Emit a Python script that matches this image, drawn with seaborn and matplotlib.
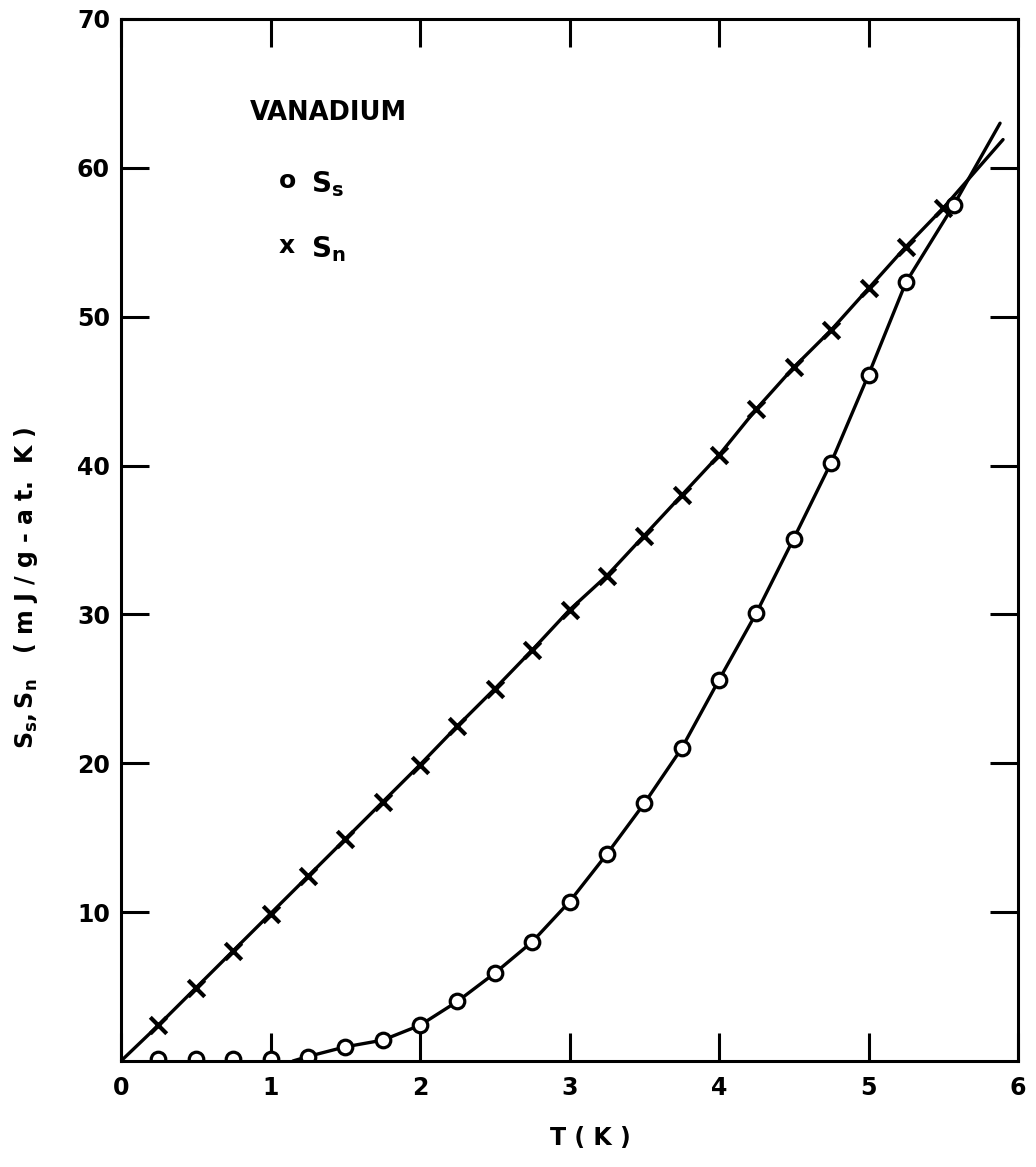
import matplotlib
matplotlib.use("Agg")
import matplotlib.pyplot as plt
import seaborn as sns

# ---- data ----
T_s = [0.25, 0.5, 0.75, 1.0, 1.25, 1.5, 1.75, 2.0, 2.25, 2.5, 2.75, 3.0,
       3.25, 3.5, 3.75, 4.0, 4.25, 4.5, 4.75, 5.0, 5.25, 5.57]
S_s = [0.15, 0.15, 0.15, 0.15, 0.3, 0.95, 1.4, 2.4, 4.0, 5.9, 8.0, 10.7,
       13.9, 17.3, 21.0, 25.6, 30.1, 35.1, 40.2, 46.1, 52.3, 57.5]

T_n = [0.25, 0.5, 0.75, 1.0, 1.25, 1.5, 1.75, 2.0, 2.25, 2.5, 2.75, 3.0,
       3.25, 3.5, 3.75, 4.0, 4.25, 4.5, 4.75, 5.0, 5.25, 5.5]
S_n = [2.4, 4.9, 7.4, 9.9, 12.4, 14.9, 17.4, 19.9, 22.5, 25.0, 27.6, 30.3,
       32.6, 35.3, 38.0, 40.7, 43.8, 46.6, 49.1, 51.9, 54.7, 57.3]

# drawn curves (start / end points of the hand-drawn lines)
Ts_line = [1.15] + T_s[4:] + [5.88]
Ss_line = [0.0] + S_s[4:] + [63.0]
Tn_line = [0.0] + T_n + [5.9]
Sn_line = [0.0] + S_n + [61.9]

x_ticks = [0, 1, 2, 3, 4, 5, 6]
y_ticks = [10, 20, 30, 40, 50, 60, 70]

sns.set_theme(style="white")
plt.rcParams['font.family'] = ['DejaVu Sans']
plt.rcParams['font.weight'] = 'bold'
plt.rcParams['mathtext.fontset'] = 'dejavusans'
plt.rcParams['text.color'] = 'black'

fig = plt.figure(figsize=(10.36, 11.67), dpi=100)
W, H = 1036, 1167
left, right, top, bottom = 121, 1018, 19, 1061
ax = fig.add_axes([left / W, (H - bottom) / H, (right - left) / W, (bottom - top) / H])

lw = 2.4
sns.lineplot(x=Tn_line, y=Sn_line, ax=ax, color='black', lw=lw, sort=False,
             estimator=None, zorder=2)
sns.lineplot(x=Ts_line, y=Ss_line, ax=ax, color='black', lw=lw, sort=False,
             estimator=None, zorder=2)
sns.scatterplot(x=T_n, y=S_n, ax=ax, marker='x', s=140, color='black',
                linewidth=3.0, zorder=3)
sns.scatterplot(x=T_s, y=S_s, ax=ax, marker='o', s=110, facecolor='white',
                edgecolor='black', linewidth=2.3, zorder=3)

ax.set_xlim(0, 6)
ax.set_ylim(0, 70)
ax.set_xticks(x_ticks)
ax.set_yticks(y_ticks)
ax.set_xticklabels([str(v) for v in x_ticks])
ax.set_yticklabels([str(v) for v in y_ticks])

for sp in ax.spines.values():
    sp.set_visible(True)
    sp.set_color('black')
    sp.set_linewidth(2.2)
    sp.set_zorder(4)

ax.tick_params(axis='both', which='major', direction='in', length=20, width=2.2,
               top=True, right=True, bottom=True, left=True,
               labelsize=17, colors='black')
ax.tick_params(axis='x', pad=11)
ax.tick_params(axis='y', pad=8)
for lab in ax.get_xticklabels() + ax.get_yticklabels():
    lab.set_fontweight('bold')

ax.set_xlabel('T ( K )', fontsize=17, fontweight='bold', color='black')
ax.xaxis.set_label_coords((590 - left) / (right - left), -(1126 - bottom) / (bottom - top))
ax.set_ylabel(r'$\mathbf{S}_\mathbf{s}\mathbf{,}\,\mathbf{S}_\mathbf{n}$   ( m J / g - a t.  K )',
              fontsize=17, fontweight='bold', color='black')
ax.yaxis.set_label_coords((40 - left) / (right - left), (bottom - 588) / (bottom - top))

def axc(px, py):
    return ((px - left) / (right - left), (bottom - py) / (bottom - top))

ax.text(*axc(250, 113), 'VANADIUM', transform=ax.transAxes, fontsize=18.5,
        fontweight='bold', va='center', ha='left', color='black')
ax.text(*axc(287, 181), 'o', transform=ax.transAxes, fontsize=18,
        fontweight='bold', va='center', ha='center', color='black')
ax.text(*axc(311, 184), r'$\mathbf{S}_\mathbf{s}$', transform=ax.transAxes, fontsize=20,
        va='center', ha='left', color='black')
ax.text(*axc(287, 246), 'x', transform=ax.transAxes, fontsize=18,
        fontweight='bold', va='center', ha='center', color='black')
ax.text(*axc(311, 249), r'$\mathbf{S}_\mathbf{n}$', transform=ax.transAxes, fontsize=20,
        va='center', ha='left', color='black')

fig.savefig('out.png', dpi=100, facecolor='white')
